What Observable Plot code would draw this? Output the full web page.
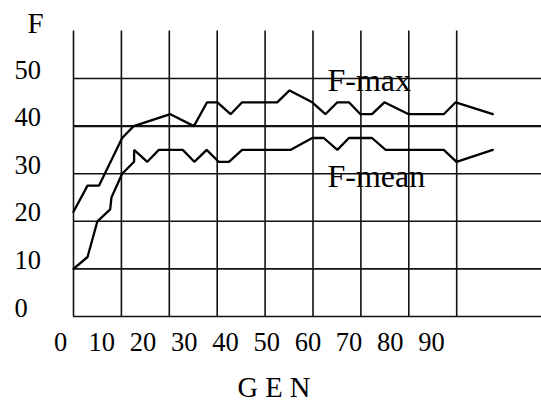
<!DOCTYPE html>
<html>
<head>
<meta charset="utf-8">
<script src="https://cdn.jsdelivr.net/npm/d3@7"></script>
<script src="https://cdn.jsdelivr.net/npm/@observablehq/plot@0.6"></script>
<style>
  html, body { margin: 0; padding: 0; background: #fff; }
  svg { display: block; }
</style>
</head>
<body>
<div id="chart"></div>
<script>
// ---- data ----
const genMax = [0, 3.4, 6.2, 11.8, 14.6, 23.5, 29.2, 32.4, 34.9, 38.1, 40.9, 49.4, 52.4, 57.9, 61.1, 64.0, 66.8, 69.6, 72.4, 75.4, 81.3, 89.8, 92.7, 101.7];
const fMax   = [22, 27.5, 27.5, 37.5, 40, 42.5, 40, 45, 45, 42.5, 45, 45, 47.5, 45, 42.5, 45, 45, 42.5, 42.5, 45, 42.5, 42.5, 45, 42.5];
const genMean = [0, 3.4, 5.8, 8.9, 9.2, 11.8, 14.7, 14.7, 17.9, 20.7, 26.5, 29.3, 32.3, 35.2, 37.7, 40.9, 52.6, 57.9, 60.7, 64.0, 66.8, 72.4, 75.7, 89.8, 92.9, 101.7];
const fMean   = [10, 12.5, 20, 22.5, 25, 30, 32.5, 35, 32.5, 35, 35, 32.5, 35, 32.5, 32.5, 35, 35, 37.5, 37.5, 35, 37.5, 37.5, 35, 35, 32.5, 35];
const xTicks = [0, 10, 20, 30, 40, 50, 60, 70, 80, 90];
const yTicks = [0, 10, 20, 30, 40, 50];
const seriesNames = ["F-max", "F-mean"];
const yTitle = "F";
const xTitle = "G E N";

// ---- tables ----
const maxData = genMax.map((g, i) => ({gen: g, f: fMax[i]}));
const meanData = genMean.map((g, i) => ({gen: g, f: fMean[i]}));

// layout
const W = 541, H = 402;
const mL = 73, mR = 0, mT = 30.4, mB = 86;
const pxPerGen = 4.123;
const xMax = (W - mL - mR) / pxPerGen;
const gridStep = 47.9 / pxPerGen; // vertical grid spacing of the original figure
const gridX = d3.range(9).map(i => i * gridStep);
const serif = "'Liberation Serif', 'DejaVu Serif', serif";

const chart = Plot.plot({
  width: W,
  height: H,
  marginLeft: mL, marginRight: mR, marginTop: mT, marginBottom: mB,
  x: {domain: [0, xMax]},
  y: {domain: [0, 60]},
  style: {fontFamily: serif, color: "#000", background: "#fff", overflow: "visible"},
  marks: [
    Plot.ruleY(yTicks, {y: d => d, stroke: "#111", strokeWidth: d => (d === 40 ? 2.4 : 1.6)}),
    Plot.ruleX(gridX, {x: d => d, stroke: "#111", strokeWidth: 1.6}),
    Plot.line(maxData, {x: "gen", y: "f", stroke: "#000", strokeWidth: 2.3, strokeLinejoin: "miter"}),
    Plot.line(meanData, {x: "gen", y: "f", stroke: "#000", strokeWidth: 2.3, strokeLinejoin: "miter"}),
    Plot.axisX(xTicks, {tickSize: 0, tickPadding: 34, lineAnchor: "bottom", dx: -13, fontSize: 26.5, fontFamily: serif, label: null}),
    Plot.axisY(yTicks, {tickSize: 0, tickPadding: 0, textAnchor: "start", dx: -59, lineAnchor: "bottom", fontSize: 26.5, fontFamily: serif, label: null}),
    Plot.text([yTitle], {text: d => d, frameAnchor: "top-left", textAnchor: "start", lineAnchor: "bottom", dx: -46, dy: 1.6, fontSize: 29, fontFamily: serif}),
    Plot.text([xTitle], {text: d => d, frameAnchor: "bottom", textAnchor: "middle", lineAnchor: "bottom", dx: -33.5, dy: 80.5, fontSize: 28.5, fontFamily: serif}),
    Plot.text([seriesNames[0]], {text: d => d, x: 61.6, y: 47.3, textAnchor: "start", lineAnchor: "bottom", fontSize: 32, fontFamily: serif}),
    Plot.text([seriesNames[1]], {text: d => d, x: 61.6, y: 27.3, textAnchor: "start", lineAnchor: "bottom", fontSize: 32, fontFamily: serif})
  ]
});
document.getElementById("chart").appendChild(chart);
</script>
</body>
</html>
